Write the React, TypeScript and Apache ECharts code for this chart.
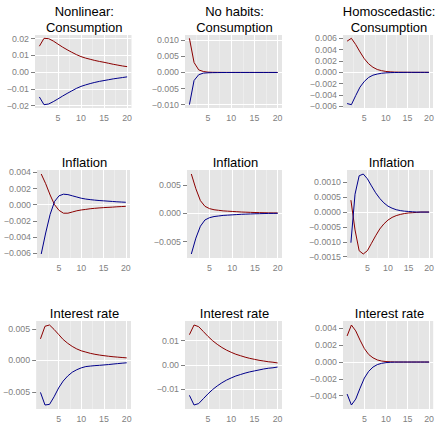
import React, { useEffect, useRef } from "react";
import * as echarts from "echarts";

// Horizon (quarters)
const periods = [1, 2, 3, 4, 5, 6, 7, 8, 9, 10, 11, 12, 13, 14, 15, 16, 17, 18, 19, 20];

const panelTitles = [
  "Nonlinear:\nConsumption",
  "No habits:\nConsumption",
  "Homoscedastic:\nConsumption",
  "Inflation",
  "Inflation",
  "Inflation",
  "Interest rate",
  "Interest rate",
  "Interest rate",
];

// Red (positive shock) responses
const redNonlinearConsumption = [0.0155, 0.0202, 0.02, 0.0186, 0.0168, 0.015, 0.0134, 0.0119, 0.0105, 0.0093, 0.0084, 0.0077, 0.007, 0.0064, 0.0059, 0.0053, 0.0047, 0.0042, 0.0037, 0.0033];
const redNoHabitsConsumption = [0.0106, 0.0031, 0.0008, 0.0003, 0.0001, 0.00005, 0.00003, 0.00002, 0.00001, 0.00001, 0, 0, 0, 0, 0, 0, 0, 0, 0, 0];
const redHomoConsumption = [0.0055, 0.006, 0.0049, 0.0036, 0.0024, 0.0015, 0.0009, 0.0005, 0.0003, 0.00016, 0.00009, 0.00005, 0.00003, 0.00002, 0.00001, 0, 0, 0, 0, 0];
const redNonlinearInflation = [0.0038, 0.0026, 0.0012, 0.0, -0.0007, -0.00105, -0.00105, -0.0009, -0.00075, -0.00065, -0.00058, -0.0005, -0.00045, -0.0004, -0.00036, -0.00033, -0.0003, -0.00026, -0.00023, -0.0002];
const redNoHabitsInflation = [0.0069, 0.0043, 0.0022, 0.0012, 0.0008, 0.0006, 0.0005, 0.0004, 0.00035, 0.0003, 0.00025, 0.0002, 0.00017, 0.00014, 0.00011, 0.00009, 0.00007, 0.00005, 0.00004, 0.00003];
const redHomoInflation = [0.0004, -0.0006, -0.0013, -0.00141, -0.0013, -0.00105, -0.0008, -0.00057, -0.0004, -0.00027, -0.00018, -0.00012, -0.00008, -0.00005, -0.00003, -0.00002, -0.00001, 0, 0, 0];
const redNonlinearRate = [0.0034, 0.0054, 0.0056, 0.0049, 0.0041, 0.0033, 0.0027, 0.0022, 0.0018, 0.0015, 0.0013, 0.0011, 0.00095, 0.00083, 0.00073, 0.00064, 0.00056, 0.0005, 0.00044, 0.00038];
const redNoHabitsRate = [0.0125, 0.0165, 0.0158, 0.0138, 0.0118, 0.01, 0.0085, 0.0072, 0.0061, 0.0052, 0.0044, 0.0038, 0.0032, 0.0027, 0.0023, 0.0019, 0.0016, 0.0013, 0.0011, 0.0008];
const redHomoRate = [0.0031, 0.0044, 0.0037, 0.0026, 0.0016, 0.0009, 0.0005, 0.00025, 0.00012, 0.00006, 0.00003, 0.00001, 0, 0, 0, 0, 0, 0, 0, 0];

// Blue (negative shock) responses
const blueNonlinearConsumption = [-0.0148, -0.0194, -0.019, -0.0176, -0.016, -0.0143, -0.0127, -0.0112, -0.0097, -0.0085, -0.0076, -0.0068, -0.0061, -0.0055, -0.005, -0.0045, -0.004, -0.0036, -0.0032, -0.0028];
const blueNoHabitsConsumption = [-0.01, -0.0025, -0.0007, -0.0002, -0.0001, -0.00005, -0.00003, -0.00002, -0.00001, -0.00001, 0, 0, 0, 0, 0, 0, 0, 0, 0, 0];
const blueHomoConsumption = [-0.0055, -0.0057, -0.0041, -0.0026, -0.0016, -0.0009, -0.0005, -0.0003, -0.00016, -0.00009, -0.00005, -0.00003, -0.00002, -0.00001, 0, 0, 0, 0, 0, 0];
const blueNonlinearInflation = [-0.0061, -0.0035, -0.0012, 0.0004, 0.0011, 0.0013, 0.00125, 0.0011, 0.00095, 0.0008, 0.0007, 0.00063, 0.00057, 0.00052, 0.00048, 0.00044, 0.0004, 0.00036, 0.00033, 0.0003];
const blueNoHabitsInflation = [-0.0072, -0.0044, -0.0023, -0.0012, -0.0008, -0.0006, -0.0005, -0.0004, -0.00035, -0.0003, -0.00025, -0.0002, -0.00017, -0.00014, -0.00011, -0.00009, -0.00007, -0.00005, -0.00004, -0.00003];
const blueHomoInflation = [-0.00103, 0.0006, 0.00122, 0.00128, 0.00112, 0.00088, 0.00065, 0.00046, 0.00031, 0.0002, 0.00013, 0.00008, 0.00005, 0.00003, 0.00002, 0.00001, 0, 0, 0, 0];
const blueNonlinearRate = [-0.0051, -0.0071, -0.007, -0.0058, -0.0044, -0.0033, -0.0025, -0.0019, -0.0015, -0.0012, -0.001, -0.00092, -0.00085, -0.0008, -0.00074, -0.00068, -0.0006, -0.00053, -0.00046, -0.0004];
const blueNoHabitsRate = [-0.0126, -0.0166, -0.016, -0.014, -0.012, -0.0102, -0.0087, -0.0074, -0.0063, -0.0054, -0.0046, -0.004, -0.0034, -0.0029, -0.0025, -0.0021, -0.0017, -0.0014, -0.0012, -0.0009];
const blueHomoRate = [-0.0038, -0.0051, -0.0044, -0.0031, -0.0019, -0.0011, -0.0006, -0.0003, -0.00015, -0.00007, -0.00003, -0.00001, 0, 0, 0, 0, 0, 0, 0, 0];

const redSeries = [redNonlinearConsumption, redNoHabitsConsumption, redHomoConsumption, redNonlinearInflation, redNoHabitsInflation, redHomoInflation, redNonlinearRate, redNoHabitsRate, redHomoRate];
const blueSeries = [blueNonlinearConsumption, blueNoHabitsConsumption, blueHomoConsumption, blueNonlinearInflation, blueNoHabitsInflation, blueHomoInflation, blueNonlinearRate, blueNoHabitsRate, blueHomoRate];

// Tick labels
const xTicks = [5, 10, 15, 20];
const yTicks = [
  [-0.02, -0.01, 0, 0.01, 0.02],
  [-0.01, -0.005, 0, 0.005, 0.01],
  [-0.006, -0.004, -0.002, 0, 0.002, 0.004, 0.006],
  [-0.006, -0.004, -0.002, 0, 0.002, 0.004],
  [-0.005, 0, 0.005],
  [-0.0015, -0.001, -0.0005, 0, 0.0005, 0.001],
  [-0.005, 0, 0.005],
  [-0.01, 0, 0.01],
  [-0.004, -0.002, 0, 0.002, 0.004],
];
const yDecimals = [2, 3, 3, 3, 3, 4, 3, 2, 3];

// Layout (pixel boxes: left, top, right, bottom)
const panelBoxes = [
  [35, 35, 131.5, 108],
  [185, 35, 282, 108],
  [343, 35, 433, 108],
  [37, 170, 130, 258],
  [187, 170, 282, 258],
  [347, 170, 434, 258],
  [36, 321, 131, 409],
  [185, 321, 282, 409],
  [343, 321, 434, 409],
];
const titleTops = [3, 3, 3, 154, 154, 154, 305, 305, 305];

const RED = "#8B0000";
const BLUE = "#00008B";
const GREY_TEXT = "#7F7F7F";
const FONT = "'Liberation Sans', Arial, Helvetica, sans-serif";

function expandRange(values: number[]): [number, number] {
  const lo = Math.min(...values);
  const hi = Math.max(...values);
  const pad = (hi - lo) * 0.05;
  return [lo - pad, hi + pad];
}

function minorBreaks(ticks: number[], lo: number, hi: number): number[] {
  const step = ticks[1] - ticks[0];
  const out: number[] = [];
  for (let k = -1; k < ticks.length; k++) {
    const v = ticks[0] + step * (k + 0.5);
    if (v > lo && v < hi) out.push(v);
  }
  return out;
}

function fmt(v: number, d: number): string {
  const s = Math.abs(v) < 1e-12 ? (0).toFixed(d) : v.toFixed(d);
  return s.replace("-", "\u2212");
}

export default function App() {
  const ref = useRef<HTMLDivElement>(null);

  useEffect(() => {
    if (!ref.current) return;
    const chart = echarts.init(ref.current, undefined, { renderer: "svg" });

    const grids: any[] = [];
    const xAxes: any[] = [];
    const yAxes: any[] = [];
    const series: any[] = [];
    const titles: any[] = [];
    const [xlo, xhi] = expandRange(periods);

    for (let i = 0; i < 9; i++) {
      const [l, t, r, b] = panelBoxes[i];
      const [ylo, yhi] = expandRange([...redSeries[i], ...blueSeries[i]]);
      grids.push({
        left: l,
        top: t,
        width: r - l,
        height: b - t,
        show: true,
        backgroundColor: "#E5E5E5",
        borderWidth: 0,
        containLabel: false,
      });
      titles.push({
        text: panelTitles[i],
        left: (l + r) / 2 + 1,
        top: titleTops[i],
        textAlign: "center",
        padding: 0,
        textStyle: {
          fontFamily: FONT,
          fontSize: 13,
          fontWeight: "normal",
          color: "#000",
          lineHeight: 16,
        },
      });
      xAxes.push({
        type: "value",
        gridIndex: i,
        min: xlo,
        max: xhi,
        axisLine: { show: false },
        splitLine: { show: false },
        axisTick: {
          show: true,
          length: 4,
          customValues: xTicks,
          lineStyle: { color: GREY_TEXT, width: 1 },
        },
        axisLabel: {
          customValues: xTicks,
          color: GREY_TEXT,
          fontSize: 8.8,
          fontFamily: FONT,
          margin: 5,
        },
      });
      yAxes.push({
        type: "value",
        gridIndex: i,
        min: ylo,
        max: yhi,
        axisLine: { show: false },
        splitLine: { show: false },
        axisTick: {
          show: true,
          length: 4,
          customValues: yTicks[i],
          lineStyle: { color: GREY_TEXT, width: 1 },
        },
        axisLabel: {
          customValues: yTicks[i],
          color: GREY_TEXT,
          fontSize: 8.8,
          fontFamily: FONT,
          margin: 6,
          formatter: (v: number) => fmt(v, yDecimals[i]),
        },
      });

      const xMinor = minorBreaks(xTicks, xlo, xhi);
      const yMinor = minorBreaks(yTicks[i], ylo, yhi);
      const minorStyle = { color: "#F2F2F2", width: 0.6, type: "solid" };
      const majorStyle = { color: "#FFFFFF", width: 1, type: "solid" };
      const gridData = [
        ...xMinor.map((v) => ({ xAxis: v, lineStyle: minorStyle })),
        ...yMinor.map((v) => ({ yAxis: v, lineStyle: minorStyle })),
        ...xTicks.map((v) => ({ xAxis: v, lineStyle: majorStyle })),
        ...yTicks[i].map((v) => ({ yAxis: v, lineStyle: majorStyle })),
      ];
      series.push({
        type: "line",
        xAxisIndex: i,
        yAxisIndex: i,
        data: [],
        silent: true,
        z: 1,
        markLine: {
          z: 1,
          silent: true,
          symbol: ["none", "none"],
          label: { show: false },
          emphasis: { disabled: true },
          animation: false,
          data: gridData,
        },
      });
      series.push({
        type: "line",
        xAxisIndex: i,
        yAxisIndex: i,
        data: periods.map((p, k) => [p, redSeries[i][k]]),
        showSymbol: false,
        symbol: "none",
        z: 10,
        lineStyle: { color: RED, width: 1 },
        emphasis: { disabled: true },
      });
      series.push({
        type: "line",
        xAxisIndex: i,
        yAxisIndex: i,
        data: periods.map((p, k) => [p, blueSeries[i][k]]),
        showSymbol: false,
        symbol: "none",
        z: 10,
        lineStyle: { color: BLUE, width: 1 },
        emphasis: { disabled: true },
      });
    }

    chart.setOption({
      animation: false,
      backgroundColor: "#FFFFFF",
      title: titles,
      grid: grids,
      xAxis: xAxes,
      yAxis: yAxes,
      series,
    });

    return () => chart.dispose();
  }, []);

  return (
    <div
      ref={ref}
      style={{ position: "fixed", left: 0, top: 0, width: 437, height: 444 }}
    />
  );
}
